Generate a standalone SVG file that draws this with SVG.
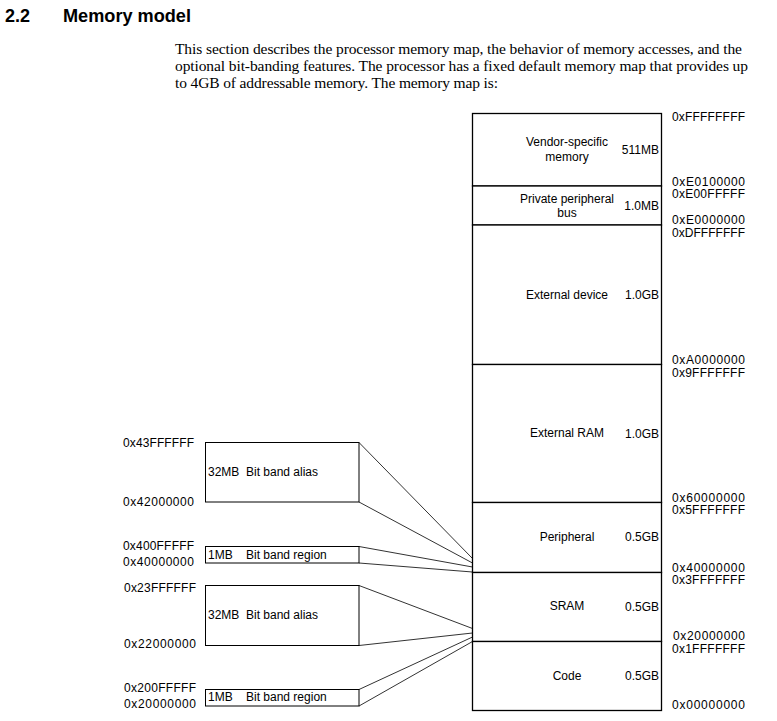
<svg xmlns="http://www.w3.org/2000/svg" width="777" height="721" viewBox="0 0 777 721">
<style>
.h{font-family:"Liberation Sans",Arial,sans-serif;font-weight:bold;font-size:18px;fill:#000}
.p{font-family:"Liberation Serif","Times New Roman",serif;font-size:15.5px;fill:#000}
.t{font-family:"Liberation Sans",Arial,sans-serif;font-size:12px;fill:#000}
.m{text-anchor:middle}
.e{text-anchor:end}
.a{font-family:"Liberation Sans",Arial,sans-serif;font-size:12px;fill:#000}
.seg{fill:#fff;stroke:#000;stroke-width:1.3}
.box{fill:#fff;stroke:#000;stroke-width:1}
.c line{stroke:#333;stroke-width:1}
</style>
<rect width="777" height="721" fill="#fff"/>
<text class="h" x="5" y="22">2.2</text>
<text class="h" x="63" y="22" textLength="128" lengthAdjust="spacingAndGlyphs">Memory model</text>
<text class="p" x="175" y="54" textLength="567">This section describes the processor memory map, the behavior of memory accesses, and the</text>
<text class="p" x="175" y="71" textLength="573">optional bit-banding features. The processor has a fixed default memory map that provides up</text>
<text class="p" x="175" y="88" textLength="323">to 4GB of addressable memory. The memory map is:</text>

<g id="connectors" class="c">
<line x1="359" y1="442.5" x2="472.5" y2="558.5"/>
<line x1="359" y1="502" x2="472.5" y2="563"/>
<line x1="359" y1="546.5" x2="472.5" y2="567"/>
<line x1="359" y1="563" x2="472.5" y2="572"/>
<line x1="359" y1="585.5" x2="472.5" y2="628.5"/>
<line x1="359" y1="645.5" x2="472.5" y2="633"/>
<line x1="359" y1="689.5" x2="472.5" y2="637"/>
<line x1="359" y1="706" x2="472.5" y2="641.5"/>
</g>

<g id="vendor">
<rect class="seg" x="472.5" y="113.5" width="189" height="72.5"/>
<text class="t m" x="567" y="146">Vendor-specific</text>
<text class="t m" x="567" y="161">memory</text>
<text class="t e" x="659" y="154">511MB</text>
</g>
<g id="ppb">
<rect class="seg" x="472.5" y="186" width="189" height="39"/>
<text class="t m" x="567" y="203">Private peripheral</text>
<text class="t m" x="567" y="217">bus</text>
<text class="t e" x="659" y="210">1.0MB</text>
</g>
<g id="extdev">
<rect class="seg" x="472.5" y="225" width="189" height="139.5"/>
<text class="t m" x="567" y="299">External device</text>
<text class="t e" x="659" y="299">1.0GB</text>
</g>
<g id="extram">
<rect class="seg" x="472.5" y="364.5" width="189" height="138"/>
<text class="t m" x="567" y="437">External RAM</text>
<text class="t e" x="659" y="438">1.0GB</text>
</g>
<g id="periph">
<rect class="seg" x="472.5" y="502.5" width="189" height="70"/>
<text class="t m" x="567" y="541">Peripheral</text>
<text class="t e" x="659" y="541">0.5GB</text>
</g>
<g id="sram">
<rect class="seg" x="472.5" y="572.5" width="189" height="69"/>
<text class="t m" x="567" y="610">SRAM</text>
<text class="t e" x="659" y="611">0.5GB</text>
</g>
<g id="code">
<rect class="seg" x="472.5" y="641.5" width="189" height="69"/>
<text class="t m" x="567" y="680">Code</text>
<text class="t e" x="659" y="680">0.5GB</text>
</g>

<g id="addresses">
<text class="a" x="672" y="121" textLength="73">0xFFFFFFFF</text>
<text class="a" x="672" y="186" textLength="73">0xE0100000</text>
<text class="a" x="672" y="198" textLength="73">0xE00FFFFF</text>
<text class="a" x="672" y="224" textLength="73">0xE0000000</text>
<text class="a" x="672" y="237" textLength="73">0xDFFFFFFF</text>
<text class="a" x="672" y="364" textLength="73">0xA0000000</text>
<text class="a" x="672" y="377" textLength="73">0x9FFFFFFF</text>
<text class="a" x="672" y="502" textLength="73">0x60000000</text>
<text class="a" x="672" y="514" textLength="73">0x5FFFFFFF</text>
<text class="a" x="672" y="572" textLength="73">0x40000000</text>
<text class="a" x="672" y="584" textLength="73">0x3FFFFFFF</text>
<text class="a" x="673" y="640" textLength="72">0x20000000</text>
<text class="a" x="672" y="653" textLength="73">0x1FFFFFFF</text>
<text class="a" x="672" y="709" textLength="73">0x00000000</text>
<text class="a" x="123" y="447" textLength="71">0x43FFFFFF</text>
<text class="a" x="123" y="506" textLength="71">0x42000000</text>
<text class="a" x="123" y="550" textLength="71">0x400FFFFF</text>
<text class="a" x="123" y="566" textLength="71">0x40000000</text>
<text class="a" x="124" y="592" textLength="72">0x23FFFFFF</text>
<text class="a" x="124" y="648" textLength="72">0x22000000</text>
<text class="a" x="124" y="692" textLength="72">0x200FFFFF</text>
<text class="a" x="124" y="708" textLength="72">0x20000000</text>
</g>

<g id="alias1">
<rect class="box" x="205.5" y="442.5" width="153.5" height="59.5"/>
<text class="t" x="208" y="476">32MB</text>
<text class="t" x="246" y="476">Bit band alias</text>
</g>
<g id="region1">
<rect class="box" x="205.5" y="546.5" width="153.5" height="16.5"/>
<text class="t" x="208" y="558.5">1MB</text>
<text class="t" x="246" y="558.5">Bit band region</text>
</g>
<g id="alias2">
<rect class="box" x="205.5" y="585.5" width="153.5" height="60"/>
<text class="t" x="208" y="618.5">32MB</text>
<text class="t" x="246" y="618.5">Bit band alias</text>
</g>
<g id="region2">
<rect class="box" x="205.5" y="689.5" width="153.5" height="16.5"/>
<text class="t" x="208" y="700.5">1MB</text>
<text class="t" x="246" y="700.5">Bit band region</text>
</g>
</svg>
